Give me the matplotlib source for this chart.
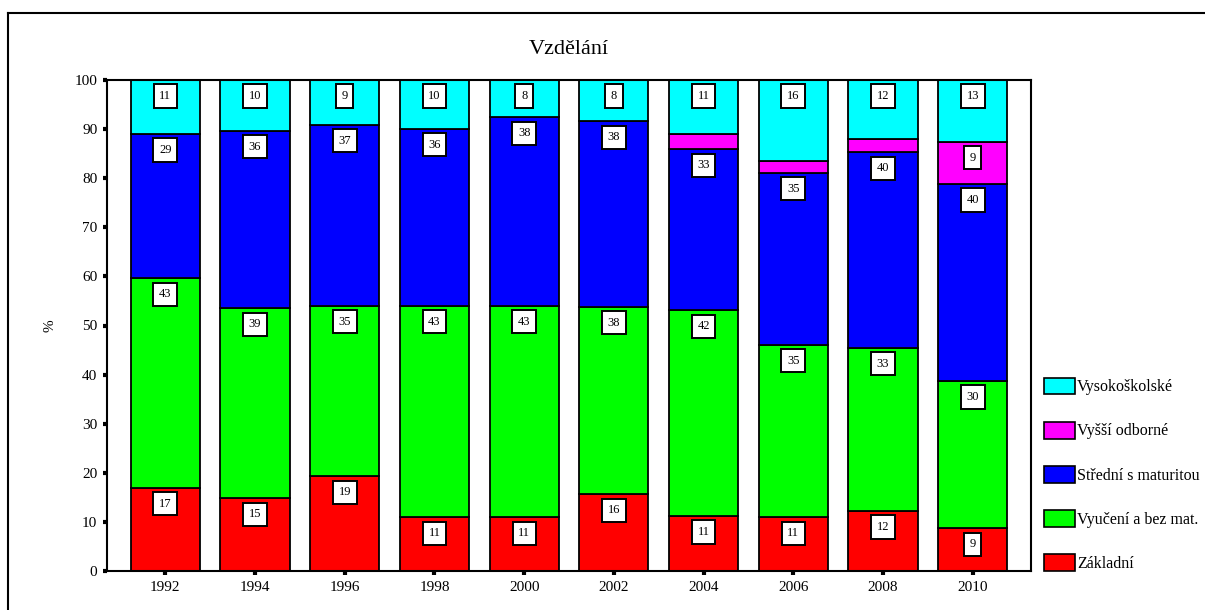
import numpy as np
import matplotlib
matplotlib.use("Agg")
import matplotlib.pyplot as plt
from matplotlib.patches import Patch
from matplotlib.lines import Line2D

plt.rcParams['font.family'] = ['Liberation Serif', 'DejaVu Serif']

years = ['1992', '1994', '1996', '1998', '2000', '2002', '2004', '2006', '2008', '2010']
zakladni = [17.0, 14.8, 19.3, 10.9, 10.9, 15.6, 11.2, 10.9, 12.2, 8.7]
vyuceni = [42.6, 38.7, 34.7, 43.1, 43.1, 38.2, 41.9, 35.2, 33.3, 30.0]
stredni = [29.4, 36.2, 36.9, 36.1, 38.4, 37.8, 32.8, 35.0, 39.8, 40.1]
vyssi = [0.0, 0.0, 0.0, 0.0, 0.0, 0.0, 3.1, 2.5, 2.7, 8.6]
vysoko = [11.0, 10.3, 9.1, 9.9, 7.6, 8.4, 11.0, 16.4, 12.0, 12.6]

series = [zakladni, vyuceni, stredni, vyssi, vysoko]
names = ['Základní', 'Vyučení a bez mat.', 'Střední s maturitou', 'Vyšší odborné', 'Vysokoškolské']
colors = ['#ff0000', '#00ff00', '#0000ff', '#ff00ff', '#00ffff']

fig = plt.figure(figsize=(12.05, 6.10), dpi=100)
ax = fig.add_axes([107 / 1205, 1 - 571 / 610, 924 / 1205, 491 / 610])

x = np.arange(len(years))
bottom = np.zeros(len(years))
for vals, name, col in zip(series, names, colors):
    vals = np.array(vals)
    ax.bar(x, vals, 0.77, bottom=bottom, color=col, edgecolor='black', linewidth=1.3, label=name)
    for xi, b, v in zip(x, bottom, vals):
        if v >= 5:
            ax.annotate(f'{v:.0f}', (xi, b + v), xytext=(0, -11.5), textcoords='offset points',
                        ha='center', va='center', fontsize=9,
                        bbox=dict(boxstyle='square,pad=0.45', fc='white', ec='black', lw=1.4))
    bottom += vals

ax.set_xlim(-0.65, 9.65)
ax.set_ylim(0, 100)
ax.set_xticks(x)
ax.set_xticklabels(years)
ax.set_yticks(np.arange(0, 101, 10))
ax.tick_params(direction='out', length=3, width=3, labelsize=11, pad=4)
for s in ax.spines.values():
    s.set_linewidth(1.5)
ax.set_ylabel('%', fontsize=11, labelpad=13)
ax.set_title('Vzdělání', fontsize=16, pad=19)

handles = [Patch(facecolor=c, edgecolor='black', linewidth=1.2) for c in colors][::-1]
fig.legend(handles, names[::-1], loc='lower left', bbox_to_anchor=(1044 / 1205, 1 - 572 / 610),
           frameon=False, fontsize=11.5, handlelength=1.95, handleheight=1.25,
           labelspacing=1.65, handletextpad=0.12, borderpad=0, borderaxespad=0)

# frame around the figure
fig.add_artist(Line2D([8 / 1205, 8 / 1205], [0, 1 - 13 / 610], color='black', lw=1.5,
                      transform=fig.transFigure))
fig.add_artist(Line2D([8 / 1205, 1], [1 - 13 / 610, 1 - 13 / 610], color='black', lw=1.5,
                      transform=fig.transFigure))

fig.savefig('out.png', dpi=100)
